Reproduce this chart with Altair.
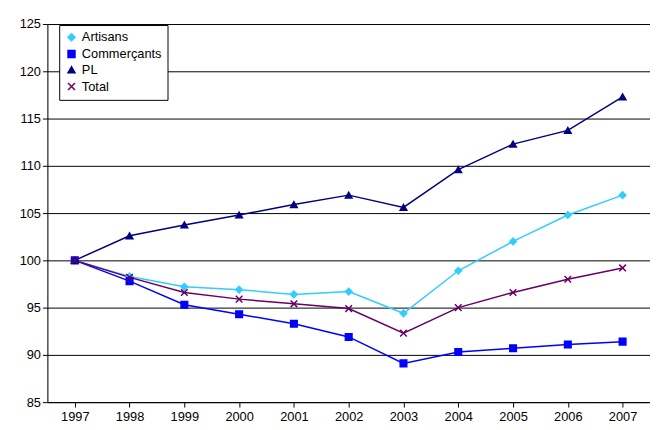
import altair as alt
import pandas as pd

years = [str(y) for y in range(1997, 2008)]
artisans = [100, 98.3, 97.2, 96.9, 96.4, 96.7, 94.4, 98.9, 102.0, 104.8, 106.9]
commercants = [100, 97.8, 95.3, 94.3, 93.3, 91.9, 89.1, 90.3, 90.7, 91.1, 91.4]
pl = [100, 102.6, 103.75, 104.8, 105.9, 106.9, 105.6, 109.6, 112.3, 113.75, 117.3]
total = [100, 98.2, 96.6, 95.9, 95.4, 94.9, 92.3, 95.0, 96.6, 98.0, 99.2]

series = ["Artisans", "Commerçants", "PL", "Total"]
colors = ["#33CCFF", "#0000FF", "#000080", "#660066"]
shapes = ["diamond", "square", "triangle-up", "M-1,-1L1,1M-1,1L1,-1"]

rows = []
for name, vals in zip(series, [artisans, commercants, pl, total]):
    for y, v in zip(years, vals):
        rows.append({"Année": y, "Indice": v, "Série": name})
df = pd.DataFrame(rows)

cscale = alt.Scale(domain=series, range=colors)
legend = alt.Legend(
    title=None, orient="none", legendX=12, legendY=1, labelFontSize=13,
    labelColor="black", strokeColor="black", fillColor="white", padding=6,
    symbolSize=50, rowPadding=2)
x = alt.X("Année:O", scale=alt.Scale(type="point", padding=0.5),
          axis=alt.Axis(title=None, labelAngle=0, labelFontSize=13, labelColor="black",
                        domainColor="black", tickColor="black", labelPadding=4))
y = alt.Y("Indice:Q", scale=alt.Scale(domain=[85, 125], nice=False),
          axis=alt.Axis(title=None, values=list(range(85, 126, 5)), labelFontSize=13,
                        labelColor="black", gridColor="black", domainColor="black",
                        tickColor="black"))

base = alt.Chart(df)
lines = base.mark_line(strokeWidth=1.5).encode(
    x=x, y=y, color=alt.Color("Série:N", scale=cscale, legend=legend))
points = base.mark_point(filled=True, size=45, strokeWidth=1.5, opacity=1).encode(
    x=x, y=y,
    color=alt.Color("Série:N", scale=cscale, legend=legend),
    stroke=alt.Stroke("Série:N", scale=cscale, legend=None),
    shape=alt.Shape("Série:N", scale=alt.Scale(domain=series, range=shapes), legend=legend))

chart = alt.layer(lines, points).properties(
    width=612, height=384, autosize=alt.AutoSizeParams(type="none"),
    padding={"left": 40, "top": 13, "right": 0, "bottom": 25},
).configure_view(stroke="black").configure(font="Liberation Sans")

chart.save("out.html", embed_options={"renderer": "svg", "actions": False})
